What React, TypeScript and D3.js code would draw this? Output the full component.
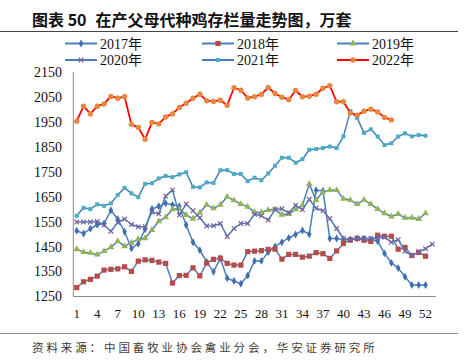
import React from 'react';
import * as d3 from 'd3';

const W = 467;
const H = 362;

const weeks = d3.range(1, 54);
const xTickWeeks = d3.range(1, 53, 3);
const yTicks = d3.range(1250, 2151, 100);

const y2017 = [1514, 1503, 1522, 1538, 1543, 1596, 1560, 1510, 1443, 1462, 1520, 1601, 1612, 1624, 1618, 1612, 1537, 1468, 1436, 1389, 1349, 1403, 1323, 1312, 1301, 1334, 1393, 1393, 1428, 1451, 1468, 1485, 1499, 1515, 1500, 1677, 1675, 1483, 1483, 1479, 1479, 1483, 1483, 1479, 1472, 1423, 1385, 1364, 1329, 1296, 1296, 1296];
const y2018 = [1286, 1309, 1319, 1332, 1356, 1359, 1361, 1369, 1351, 1392, 1397, 1395, 1388, 1383, 1304, 1334, 1335, 1365, 1333, 1384, 1399, 1404, 1383, 1376, 1376, 1430, 1432, 1434, 1439, 1440, 1400, 1419, 1419, 1408, 1412, 1426, 1422, 1403, 1433, 1463, 1477, 1483, 1476, 1471, 1496, 1492, 1492, 1440, 1447, 1415, 1427, 1412];
const y2019 = [1440, 1428, 1425, 1418, 1432, 1448, 1472, 1452, 1466, 1480, 1484, 1517, 1552, 1568, 1600, 1602, 1577, 1562, 1586, 1618, 1604, 1618, 1650, 1636, 1621, 1610, 1589, 1588, 1597, 1600, 1578, 1581, 1600, 1617, 1701, 1637, 1670, 1677, 1677, 1642, 1637, 1621, 1638, 1621, 1601, 1584, 1571, 1581, 1566, 1566, 1561, 1584];
const y2020 = [1549, 1549, 1549, 1551, 1537, 1512, 1547, 1561, 1539, 1530, 1530, 1588, 1582, 1653, 1678, 1577, 1621, 1594, 1566, 1533, 1534, 1543, 1491, 1523, 1543, 1543, 1580, 1574, 1557, 1599, 1602, 1586, 1616, 1599, 1640, 1604, 1594, 1563, 1523, 1483, 1477, 1484, 1483, 1483, 1485, 1488, 1468, 1478, 1432, 1413, 1430, 1442, 1460];
const y2021 = [1574, 1606, 1601, 1620, 1614, 1624, 1658, 1686, 1664, 1649, 1702, 1705, 1724, 1734, 1729, 1740, 1749, 1690, 1688, 1708, 1706, 1757, 1757, 1742, 1742, 1713, 1727, 1717, 1744, 1775, 1807, 1807, 1787, 1801, 1839, 1842, 1846, 1852, 1846, 1893, 1994, 1967, 1907, 1921, 1892, 1858, 1865, 1892, 1905, 1893, 1898, 1895];
const y2022 = [1954, 2014, 1983, 2014, 2023, 2053, 2046, 2052, 1941, 1929, 1881, 1949, 1943, 1971, 1983, 2009, 2026, 2046, 2062, 2036, 2033, 2038, 2018, 2088, 2078, 2047, 2052, 2061, 2089, 2065, 2050, 2040, 2077, 2052, 2054, 2062, 2086, 2096, 2032, 2032, 1987, 1978, 1994, 2002, 1991, 1969, 1959];

type Marker = 'diamond' | 'square' | 'triangle' | 'cross' | 'smallSquare' | 'circle';

const series: { name: string; values: number[]; line: string; marker: Marker; mColor: string }[] = [
  { name: '2017年', values: y2017, line: '#4A7EBB', marker: 'diamond', mColor: '#3F6FB0' },
  { name: '2018年', values: y2018, line: '#4A7EBB', marker: 'square', mColor: '#B84A48' },
  { name: '2019年', values: y2019, line: '#4A7EBB', marker: 'triangle', mColor: '#93B356' },
  { name: '2020年', values: y2020, line: '#4A7EBB', marker: 'cross', mColor: '#7A5F9E' },
  { name: '2021年', values: y2021, line: '#4A7EBB', marker: 'smallSquare', mColor: '#4BACC6' },
  { name: '2022年', values: y2022, line: '#FF0000', marker: 'circle', mColor: '#E8873E' },
];

const x = d3.scaleBand<number>().domain(weeks).range([73.3, 435.8]).padding(0);
const cx = (w: number) => (x(w) || 0) + x.bandwidth() / 2;
const y = d3.scaleLinear().domain([1250, 2150]).range([296.5, 72.3]);

const drawMarker = (m: Marker, color: string, px: number, py: number, key: string | number) => {
  switch (m) {
    case 'diamond':
      return <path key={key} d={d3.symbol(d3.symbolDiamond, 18)() || ''} transform={`translate(${px},${py})`} fill={color} />;
    case 'square':
      return <rect key={key} x={px - 2.6} y={py - 2.6} width={5.2} height={5.2} fill={color} />;
    case 'triangle':
      return <path key={key} d={d3.symbol(d3.symbolTriangle, 20)() || ''} transform={`translate(${px},${py})`} fill={color} />;
    case 'cross':
      return (
        <path key={key} d={`M${px - 2.3},${py - 2.3}L${px + 2.3},${py + 2.3}M${px - 2.3},${py + 2.3}L${px + 2.3},${py - 2.3}`}
          stroke={color} strokeWidth={1.2} fill="none" />
      );
    case 'smallSquare':
      return <rect key={key} x={px - 2} y={py - 2} width={4} height={4} fill={color} />;
    case 'circle':
      return <circle key={key} cx={px} cy={py} r={2.7} fill={color} />;
  }
};

const legendPos = [
  [65, 43.5], [202, 43.5], [337, 43.5],
  [65, 60], [202, 60], [337, 60],
];

export default function App() {
  const line = d3.line<number>().x((_, i) => cx(i + 1)).y(d => y(d));
  const serif = '"Liberation Serif", "Times New Roman", "Noto Sans CJK SC", serif';

  return (
    <div style={{ position: 'fixed', left: 0, top: 0, width: W, height: H, background: '#fff' }}>
      <svg width={W} height={H} style={{ display: 'block' }}>
        <text x={32} y={26} fontFamily='"Noto Sans CJK SC", sans-serif' fontWeight={700} fontSize={16} fill="#111">
          图表 50<tspan dx={9}>在产父母代种鸡存栏量走势图，万套</tspan>
        </text>
        <line x1={0} x2={458} y1={31.5} y2={31.5} stroke="#444" strokeWidth={1} />

        {series.map((s, i) => {
          const [lx, ly] = legendPos[i];
          return (
            <g key={s.name}>
              <line x1={lx} x2={lx + 32} y1={ly} y2={ly} stroke={s.line} strokeWidth={2} />
              {drawMarker(s.marker, s.mColor, lx + 16, ly, 'm')}
              <text x={lx + 35} y={ly + 5} fontFamily={serif} fontSize={14} fill="#111">{s.name}</text>
            </g>
          );
        })}

        {yTicks.map(t => (
          <text key={t} x={62} y={y(t)} dy="0.35em" textAnchor="end" fontFamily={serif} fontSize={14} fill="#111">{t}</text>
        ))}
        {xTickWeeks.map(w => (
          <text key={w} x={cx(w)} y={318} textAnchor="middle" fontFamily={serif} fontSize={13} fill="#111">{w}</text>
        ))}

        <line x1={73.3} x2={73.3} y1={72} y2={296.5} stroke="#8C8C8C" strokeWidth={1} />
        <line x1={73.3} x2={435.8} y1={296.5} y2={296.5} stroke="#8C8C8C" strokeWidth={1} />

        {series.map(s => (
          <g key={s.name}>
            <path d={line(s.values) || ''} fill="none" stroke={s.line} strokeWidth={s.marker === 'circle' ? 1.8 : 1.5} strokeLinejoin="round" />
            {s.values.map((v, i) => drawMarker(s.marker, s.mColor, cx(i + 1), y(v), i))}
          </g>
        ))}

        <line x1={0} x2={458} y1={333.5} y2={333.5} stroke="#8C8C8C" strokeWidth={1} />
        <text x={32} y={352} fontFamily='"Noto Sans CJK SC", sans-serif' fontSize={11.5} letterSpacing={2.9} fill="#333">
          资料来源：<tspan fill="#4a3c2e">中国畜牧业协会禽业分会，华安证券研究所</tspan>
        </text>
      </svg>
    </div>
  );
}
